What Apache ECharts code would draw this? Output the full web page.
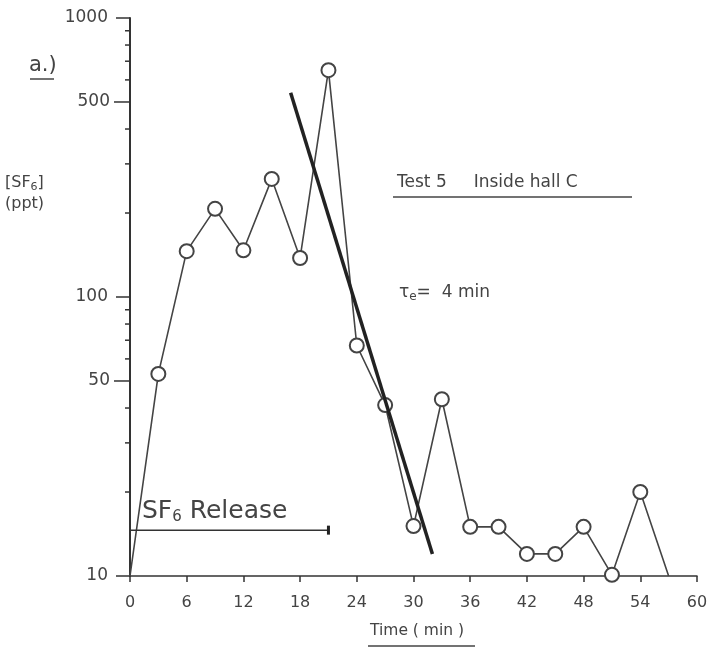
<!DOCTYPE html>
<html>
<head>
<meta charset="utf-8">
<script src="https://cdn.jsdelivr.net/npm/echarts@6/dist/echarts.min.js"></script>
<style>
  html, body { margin: 0; padding: 0; background: #fff; }
  #chart { width: 713px; height: 648px; }
</style>
</head>
<body>
<div id="chart"></div>
<script>
// measured series: time (min) and [SF6] (ppt); first/last are the line ends without a circle
const timeMin = [0, 3, 6, 9, 12, 15, 18, 21, 24, 27, 30, 33, 36, 39, 42, 45, 48, 51, 54, 57];
const sf6Ppt = [10, 53, 146, 207, 147, 265, 138, 650, 67, 41, 15.1, 43, 15, 15, 12, 12, 15, 10.1, 20, 10];
// fitted decay line (tau_e = 4 min)
const fitTime = [17, 32];
const fitPpt = [540, 12];
// release period arrow
const releaseTime = [0, 21];
const releasePpt = [14.6, 14.6];
// y ticks
const yMinorTicks = [20, 30, 40, 60, 70, 80, 90, 200, 300, 400, 600, 700, 800, 900];
const yExtraLabels = [50, 500];

const ink = '#333';
const font = 'DejaVu Sans';

const chart = echarts.init(document.getElementById('chart'));

const seriesData = timeMin.map((t, i) => {
  const item = { value: [t, sf6Ppt[i]] };
  if (i === 0 || i === timeMin.length - 1) item.symbol = 'none';
  return item;
});

// minor / extra ticks on the log axis
const tickData = yMinorTicks.map(v => ({ value: [0, v], big: false }))
  .concat(yExtraLabels.map(v => ({ value: [0, v], big: true })));

const option = {
  animation: false,
  grid: { left: 130, right: 16, top: 18, bottom: 72 },
  xAxis: {
    type: 'value', min: 0, max: 60, interval: 6,
    splitLine: { show: false },
    axisLine: { lineStyle: { color: ink, width: 1.5 } },
    axisTick: { length: 6, lineStyle: { color: ink, width: 1.5 } },
    axisLabel: { color: '#444', fontFamily: font, fontSize: 16, margin: 19 }
  },
  yAxis: {
    type: 'log', min: 10, max: 1000, logBase: 10,
    splitLine: { show: false },
    axisLine: { lineStyle: { color: ink, width: 2 } },
    axisTick: { length: 14, lineStyle: { color: ink, width: 1.5 } },
    axisLabel: {
      color: '#444', fontFamily: font, fontSize: 17, margin: 22,
      formatter: v => String(Math.round(v))
    }
  },
  series: [
    {
      type: 'custom',
      silent: true,
      data: tickData.map(d => d.value),
      renderItem: function (params, api) {
        const d = tickData[params.dataIndex];
        const p = api.coord([0, d.value[1]]);
        const len = d.big ? 16 : 5;
        const children = [{
          type: 'line',
          shape: { x1: p[0] - len, y1: p[1], x2: p[0], y2: p[1] },
          style: { stroke: ink, lineWidth: 1.5 }
        }];
        if (d.big) {
          children.push({
            type: 'text',
            style: {
              text: String(d.value[1]), x: p[0] - 20, y: p[1],
              align: 'right', verticalAlign: 'middle',
              fill: '#444', font: '17px ' + font
            }
          });
        }
        return { type: 'group', children: children };
      },
      z: 5
    },
    {
      type: 'line',
      data: seriesData,
      symbol: 'emptyCircle',
      symbolSize: 14,
      showAllSymbol: true,
      lineStyle: { color: '#444', width: 1.6 },
      itemStyle: { color: '#444', borderColor: '#444', borderWidth: 1.5 },
      z: 3
    },
    {
      type: 'line',
      data: fitTime.map((t, i) => [t, fitPpt[i]]),
      symbol: 'none',
      lineStyle: { color: '#222', width: 3.5 },
      z: 4
    },
    {
      type: 'line',
      data: releaseTime.map((t, i) => [t, releasePpt[i]]),
      symbol: 'none',
      lineStyle: { color: ink, width: 1.5 },
      markPoint: {
        symbol: 'rect', symbolSize: [3, 9],
        itemStyle: { color: '#222' },
        label: { show: false },
        data: [{ coord: [releaseTime[1], releasePpt[1]] }]
      },
      z: 3
    }
  ],
  graphic: [
    { type: 'text', left: 29, top: 55,
      style: { text: 'a.)', fill: '#444', font: '21px ' + font } },
    { type: 'line', shape: { x1: 30, y1: 79, x2: 54, y2: 79 }, style: { stroke: '#444', lineWidth: 1.5 } },
    { type: 'text', left: 5, top: 172,
      style: {
        text: '[SF{s|6}]\n(ppt)', fill: '#444', font: '16px ' + font, lineHeight: 21,
        rich: { s: { fontSize: 11, verticalAlign: 'bottom', padding: [7, 0, 0, 0], fill: '#444', fontFamily: font } }
      } },
    { type: 'text', left: 397, top: 174,
      style: { text: 'Test 5     Inside hall C', fill: '#444', font: '17px ' + font } },
    { type: 'line', shape: { x1: 393, y1: 197, x2: 632, y2: 197 }, style: { stroke: '#444', lineWidth: 1.5 } },
    { type: 'text', left: 399, top: 284,
      style: {
        text: 'τ{s|e}=  4 min', fill: '#444', font: '17px ' + font,
        rich: { s: { fontSize: 12, verticalAlign: 'bottom', padding: [9, 0, 0, 0], fill: '#444', fontFamily: font } }
      } },
    { type: 'text', left: 142, top: 499,
      style: {
        text: 'SF{s|6} Release', fill: '#444', font: '25px ' + font,
        rich: { s: { fontSize: 15, verticalAlign: 'bottom', padding: [12, 0, 0, 0], fill: '#444', fontFamily: font } }
      } },
    { type: 'text', left: 370, top: 623,
      style: { text: 'Time ( min )', fill: '#444', font: '15.5px ' + font } },
    { type: 'line', shape: { x1: 368, y1: 646, x2: 475, y2: 646 }, style: { stroke: '#444', lineWidth: 1.5 } }
  ]
};

chart.setOption(option);
</script>
</body>
</html>
